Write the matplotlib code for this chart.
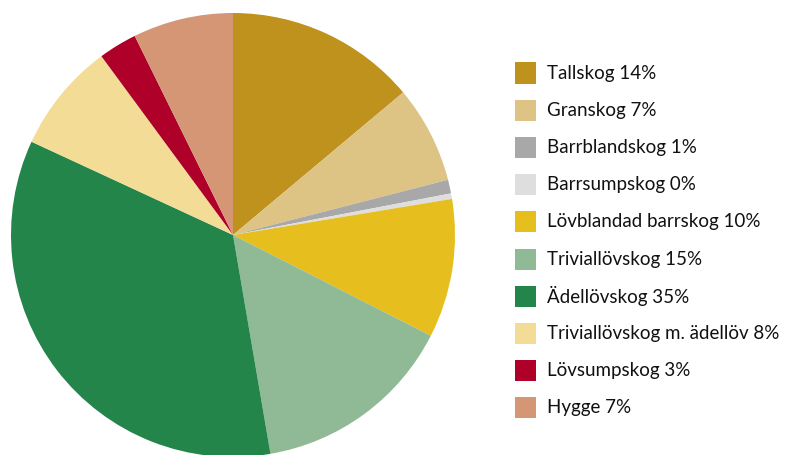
import matplotlib.pyplot as plt
from matplotlib.patches import Rectangle

plt.rcParams['font.family'] = ['Lato', 'DejaVu Sans']

# andel skogsmark per skogstyp (%)
labels = ['Tallskog', 'Granskog', 'Barrblandskog', 'Barrsumpskog',
          'Lövblandad barrskog', 'Triviallövskog', 'Ädellövskog',
          'Triviallövskog m. ädellöv', 'Lövsumpskog', 'Hygge']
values = [13.9, 7.1, 1.0, 0.4, 10.1, 14.8, 34.6, 8.0, 2.8, 7.3]
colors = ['#BF921E', '#DDC485', '#A8A8A8', '#DEDEDE', '#E6BF1F',
          '#90B996', '#23854A', '#F3DC96', '#AE0029', '#D49674']

W, H = 786, 455
fig = plt.figure(figsize=(W / 100, H / 100), dpi=100)

cx, cy, r = 233, 235, 222
ax = fig.add_axes([(cx - r) / W, (H - cy - r) / H, 2 * r / W, 2 * r / H])
ax.pie(values, colors=colors, startangle=90, counterclock=False, radius=1,
       wedgeprops=dict(linewidth=0))
ax.set_xlim(-1, 1)
ax.set_ylim(-1, 1)
ax.set_aspect('equal')
ax.axis('off')

# legend drawn row by row
x0, y0, step, size = 515, 73, 37.2, 21
for i, (lab, val, col) in enumerate(zip(labels, values, colors)):
    yc = y0 + i * step
    fig.patches.append(Rectangle((x0 / W, (H - yc - size / 2) / H), size / W, size / H,
                                 transform=fig.transFigure, facecolor=col,
                                 edgecolor='none'))
    fig.text((x0 + size + 11) / W, (H - yc) / H, f'{lab} {round(val)}%',
             fontsize=13.5, color='#111111', va='center', ha='left')

fig.savefig('out.png', dpi=100)
